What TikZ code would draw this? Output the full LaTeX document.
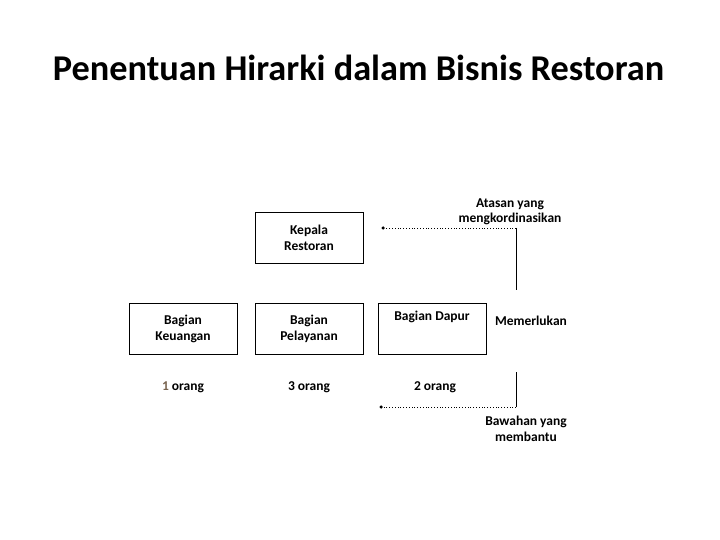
\documentclass[tikz,border=0pt]{standalone}
\usepackage{fontspec}
\setmainfont{Carlito}
\definecolor{brownnum}{RGB}{120,100,80}
\tikzset{
  box/.style={draw, line width=0.9pt, minimum width=108pt, minimum height=51pt, inner sep=0pt, align=center, font=\bfseries\fontsize{13.5}{15.5}\selectfont},
  lbl/.style={align=center, font=\bfseries\fontsize{13.5}{15.5}\selectfont, inner sep=0pt},
  dotline/.style={dotted, line width=0.8pt},
  solidline/.style={line width=1pt},
  enddot/.style={fill, circle, inner sep=0pt, minimum size=3.5pt}
}
\begin{document}
\begin{tikzpicture}[x=1pt,y=-1pt]
\useasboundingbox (0,0) rectangle (720,540);
\node[font=\bfseries\fontsize{36.3}{40}\selectfont] (title) at (358.5,68) {Penentuan Hirarki dalam Bisnis Restoran};
\node[box] (kepala) at (309,238) {Kepala\\Restoran};
\node[box] (keu) at (183,329) {Bagian\\Keuangan};
\node[box] (pel) at (309,329) {Bagian\\Pelayanan};
\node[box] (dapur) at (432,329) {};
\node[lbl, anchor=north] (dapurtxt) at (432,310.5) {Bagian Dapur};
\node[lbl] (mem) at (531,321) {Memerlukan};
\node[lbl] (o1) at (183,387) {\textcolor{brownnum}{1} orang};
\node[lbl] (o3) at (309,387) {3 orang};
\node[lbl] (o2) at (435,387) {2 orang};
\node[lbl] (atasan) at (510,212) {Atasan yang\\mengkordinasikan};
\node[lbl] (bawahan) at (526,429) {Bawahan yang\\membantu};
\coordinate (c1) at (516,228);
\coordinate (c1b) at (516,290);
\node[enddot] (d1) at (383,228) {};
\coordinate (c2) at (516,407);
\coordinate (c2t) at (516,372);
\node[enddot] (d2) at (381,407) {};
\draw[solidline] (c1) -- (c1b);
\draw[dotline] (c1) -- (d1);
\draw[solidline] (c2t) -- (c2);
\draw[dotline] (c2) -- (d2);
\end{tikzpicture}
\end{document}
